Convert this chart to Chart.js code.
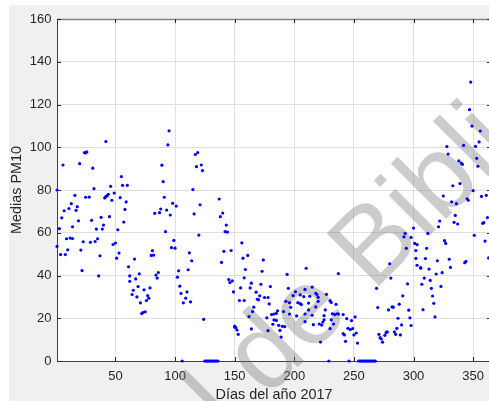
<!DOCTYPE html>
<html>
<head>
<meta charset="utf-8">
<script src="https://cdn.jsdelivr.net/npm/chart.js@4.4.1/dist/chart.umd.min.js"></script>
<style>
  html, body { margin:0; padding:0; background:#fff; overflow:hidden; }
  #wrap { position:absolute; left:0; top:0; width:500px; height:401px; }
</style>
</head>
<body>
<div id="wrap"><canvas id="pm" width="500" height="401"></canvas></div>
<script>
// Daily PM10 means, 2017 (zeros = days without data)
const days = [
  1,1,3,4,5,6,7,8,9,10,
  11,12,13,14,14,16,17,18,19,20,
  21,22,23,24,25,25,26,28,29,30,
  31,32,33,34,35,36,37,38,39,40,
  41,42,42,43,44,45,46,47,48,49,
  50,51,52,53,54,55,56,57,58,59,
  60,61,62,62,64,65,66,67,68,69,
  70,71,72,73,74,75,76,77,78,79,
  80,81,82,83,84,85,86,87,88,89,
  90,91,92,93,94,95,96,97,98,99,
  100,101,102,103,104,105,106,107,109,110,
  111,112,113,114,115,116,117,118,119,120,
  121,122,123,124,125,126,127,128,129,130,
  131,132,133,134,135,136,137,138,139,140,
  141,142,143,144,145,146,147,148,149,150,
  150,151,152,153,154,155,156,157,158,158,
  159,161,162,163,164,164,165,166,168,169,
  170,171,172,173,174,175,177,178,178,179,
  180,181,182,183,183,185,185,186,187,188,
  189,190,191,192,193,194,195,196,196,197,
  199,201,202,203,205,205,206,208,209,209,
  209,210,212,212,213,215,215,216,218,218,
  219,220,220,221,222,223,224,225,225,226,
  227,229,230,230,231,231,232,233,234,235,
  236,237,237,241,241,242,243,244,245,246,
  247,248,249,250,251,252,253,254,255,256,
  257,258,259,260,261,262,263,264,265,266,
  267,268,269,270,271,272,273,274,276,277,
  278,279,280,281,282,283,284,285,286,287,
  288,289,290,291,292,293,294,295,296,297,
  298,298,300,301,302,302,303,303,306,306,
  307,308,309,310,311,312,313,314,315,316,
  317,318,319,320,321,322,323,324,325,326,
  327,328,329,330,331,332,333,334,335,336,
  337,338,339,340,341,342,343,344,345,346,
  347,348,349,350,351,352,353,354,355,356,
  357,358,359,360,361,362,363
];
const pm10 = [
  80,53.6,61.9,49.8,67,91.7,70.3,49.8,57.2,52,
  71.3,57.5,73.6,57.3,62.8,77.5,70.5,72.2,65.6,92.3,
  51.9,42.3,55.8,97.5,76.6,97.3,97.8,76.7,55.5,65.8,
  90.2,80.6,55.9,61.7,57.2,39.8,49.2,67.2,61.7,63.6,
  76.3,102.7,76.9,77.3,78,67.5,81.7,75.2,54.5,78.6,
  55.2,48.1,61.4,50.5,76.4,86.3,82.2,65,70.9,74.4,
  82.2,44.1,37.3,39.8,31.1,33.1,47.7,38.4,30,34.8,
  40.8,27.2,22.2,22.7,33.3,23,28.3,30.6,29.4,34.2,
  49.4,51.6,49.5,69.1,40.2,38.8,41.4,69.4,71.1,91.6,
  83.9,76.6,60.5,70.6,101.1,107.7,68.3,53,73.8,56.4,
  52.8,72.5,39.2,42.2,35,31.6,0,27.2,29.4,32.3,
  42.7,50.6,27.7,46.9,80.2,68.8,96.6,90.9,97.5,58.9,
  73.1,91.7,89.1,19.5,0,0,0,0,0,0,
  0,0,0,0,0,0,75.8,67.5,46.1,69.2,
  51.3,60.5,63.6,60.3,38.1,36.7,51.7,37.5,32.3,15.8,
  16.3,15.6,14.5,12.5,28.3,34.2,55.3,48.1,38.9,28.3,
  42.8,49.4,20.8,34.2,36.4,15,23.1,25.2,32.2,28.9,
  28.6,30.5,35.9,42,47.3,29.7,20.2,29.7,14.2,26.7,
  34.8,21.7,17.2,19.2,22,22.3,19,23.5,16.7,14.3,
  11.2,16.2,23.1,16.1,27.9,40.5,34,27.3,22,25.1,
  30.6,32.4,21.1,27.3,26.8,30.9,26.4,30.1,33.5,22,
  18.4,43.4,27.1,23.9,30.3,34.6,21.4,17,31.7,25.3,
  31.1,27.9,29.8,17.3,8.9,16.8,18.2,19.3,21.2,23.9,
  31.2,0,28.2,15.1,27.4,19.2,22.1,17.3,21.7,26.5,
  22.1,40.9,22,21.7,12.8,12.2,9.2,19.8,15.3,0,
  14.7,18.9,15.2,12.2,20.6,13.1,8.4,0,0,0,
  0,0,0,0,0,0,0,0,0,0,
  0,0,34,25,12.5,10.9,10.3,8.8,12,13.3,
  13.6,23.9,45.5,38.8,25.3,25.2,13.6,12.5,15.3,20,
  26.6,12.2,16.9,30.5,58.1,59.7,52.7,36.1,23.8,20.2,
  16.6,57.8,62.2,55,48,51.7,44.8,54.4,43.4,43.7,
  35.9,24,38.8,47.9,52.7,59.7,43,37.7,34,30.4,
  27,20.6,40.7,46.9,62.8,65.5,34.9,41.3,77.2,56.3,
  55,100.3,96.8,47.6,43.8,74.5,82,64.9,68.1,73.6,
  64.1,93.6,83,92.6,92,100.9,46,46.6,75.9,75.2,
  117.6,130.5,109.9,79.7,58.8,100.4,94.8,91.1,102.5,107.6,
  77,64.4,64.7,56.1,77.5,67.1,48.2
];
const xTicks = [50, 100, 150, 200, 250, 300, 350];
const yTicks = [0, 20, 40, 60, 80, 100, 120, 140, 160];
const xLabel = 'Días del año 2017';
const yLabel = 'Medias PM10';
const watermark = 'Dirección General de Bibliotecas';
const watermarkLead = 'Dirección General de ';

const FONT = '"Liberation Sans", Arial, Helvetica, sans-serif';
const INK = '#262626';
Chart.defaults.font.family = FONT;

// figure background, MATLAB style box / inward ticks, watermark
const figure = {
  id: 'figure',
  beforeDraw(chart) {
    const {ctx, chartArea: a} = chart;
    ctx.save();
    ctx.fillStyle = '#fff';
    ctx.fillRect(0, 0, chart.width, chart.height);
    ctx.fillStyle = '#f0f0f0';
    ctx.fillRect(9, 5, chart.width - 9, chart.height - 5);
    ctx.fillStyle = '#fff';
    ctx.fillRect(a.left, a.top, a.right - a.left, a.bottom - a.top);
    ctx.restore();
  },
  beforeDatasetsDraw(chart) {
    const {ctx, chartArea: a, scales: {x, y}} = chart;
    ctx.save();
    // top of the box
    ctx.strokeStyle = '#858585';
    ctx.lineWidth = 1.5;
    ctx.beginPath();
    ctx.moveTo(a.left, a.top + 0.5);
    ctx.lineTo(a.right, a.top + 0.5);
    ctx.stroke();
    // ticks pointing inside
    ctx.strokeStyle = INK;
    ctx.lineWidth = 1;
    ctx.beginPath();
    xTicks.forEach(v => {
      const px = Math.round(x.getPixelForValue(v)) + 0.5;
      ctx.moveTo(px, a.bottom); ctx.lineTo(px, a.bottom - 4);
      ctx.moveTo(px, a.top); ctx.lineTo(px, a.top + 4);
    });
    yTicks.forEach(v => {
      const py = Math.round(y.getPixelForValue(v)) + 0.5;
      ctx.moveTo(a.left, py); ctx.lineTo(a.left + 4, py);
      ctx.moveTo(a.right, py); ctx.lineTo(a.right - 4, py);
    });
    ctx.stroke();
    // diagonal watermark
    ctx.font = '108px ' + FONT;
    ctx.fillStyle = 'rgba(110,110,110,0.35)';
    ctx.translate(373, 292);
    ctx.rotate(-Math.PI / 4);
    ctx.textBaseline = 'alphabetic';
    ctx.fillText(watermark, -ctx.measureText(watermarkLead).width, 0);
    ctx.restore();
  }
};

new Chart(document.getElementById('pm'), {
  type: 'scatter',
  data: {
    datasets: [{
      data: days.map((d, i) => ({x: d, y: pm10[i]})),
      pointRadius: 1.6,
      pointHoverRadius: 1.6,
      pointBackgroundColor: '#0000ff',
      pointBorderWidth: 0,
      clip: false
    }]
  },
  options: {
    responsive: false,
    animation: false,
    devicePixelRatio: 1,
    events: [],
    layout: {padding: {left: 0, top: 19, right: 9, bottom: 0}},
    plugins: {legend: {display: false}, tooltip: {enabled: false}},
    scales: {
      x: {
        type: 'linear', min: 1, max: 365,
        afterBuildTicks: s => { s.ticks = xTicks.map(v => ({value: v})); },
        afterFit: s => { s.height = 40; },
        grid: {color: '#dfdfdf', drawTicks: false},
        border: {color: '#404040', width: 1},
        ticks: {padding: 8, color: INK, font: {size: 13}, maxRotation: 0, autoSkip: false},
        title: {display: true, text: xLabel, color: INK,
                font: {size: 14.4, lineHeight: 1}, padding: {top: 0, bottom: -1.2}}
      },
      y: {
        type: 'linear', min: 0, max: 160,
        afterBuildTicks: s => { s.ticks = yTicks.map(v => ({value: v})); },
        afterFit: s => { s.width = 57; },
        grid: {color: '#dfdfdf', drawTicks: false},
        border: {color: '#404040', width: 1},
        ticks: {padding: 5.5, color: INK, font: {size: 13}, autoSkip: false},
        title: {display: true, text: yLabel, color: INK,
                font: {size: 14.4, lineHeight: 1}, padding: {top: 9.5, bottom: 0}}
      }
    }
  },
  plugins: [figure]
});
</script>
</body>
</html>
